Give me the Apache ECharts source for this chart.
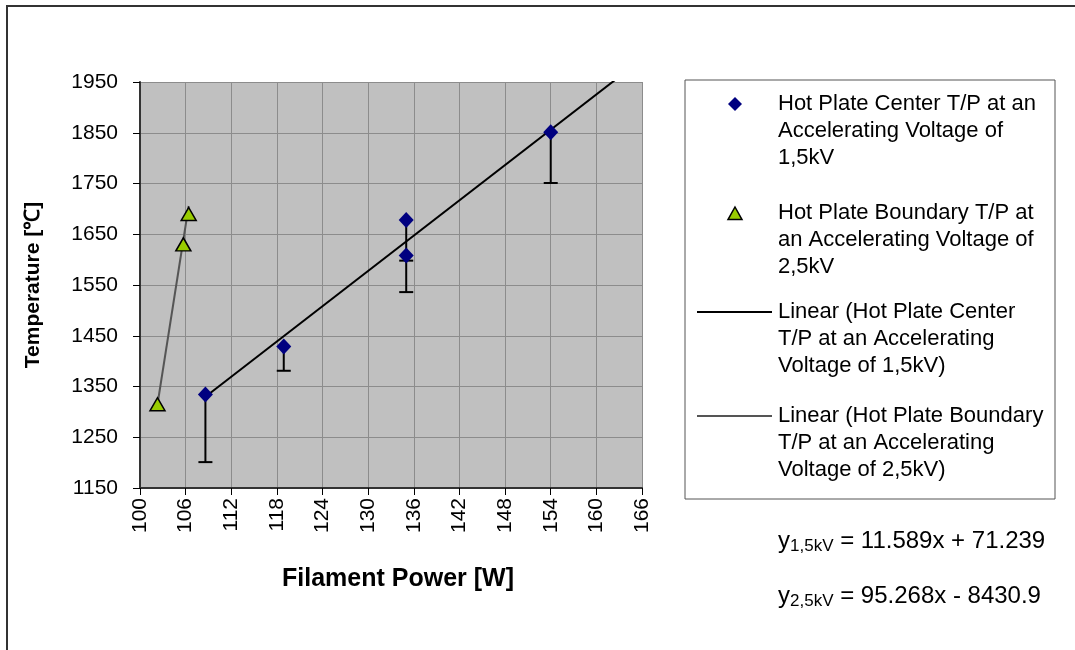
<!DOCTYPE html>
<html>
<head>
<meta charset="utf-8">
<script src="https://cdn.jsdelivr.net/npm/echarts@6/dist/echarts.min.js"></script>
<style>
html,body{margin:0;padding:0;background:#fff;}
#chart{width:1075px;height:650px;}
</style>
</head>
<body>
<div id="chart"></div>
<script>
// ---- Data ----
const centerPower = [108.6, 118.9, 135.0, 135.0, 154.0];     // W
const centerTemp = [1334, 1429, 1678, 1608, 1851];           // °C
const centerErrMinus = [133, 48, 80, 72, 100];               // °C (lower error only)
const boundaryPower = [102.3, 105.7, 106.4];                 // W
const boundaryTemp = [1315, 1630, 1690];                     // °C
// trendline equations shown on the chart: y = a x + b
const trendCenter = [11.589, 71.239];
const trendBoundary = [95.268, -8430.9];
const trendCenterRange = [108.6, 166];
const trendBoundaryRange = [102.3, 106.4];
// axis ranges [min, max, interval]
const xAxisRange = [100, 166, 6];
const yAxisRange = [1150, 1950, 100];

const legendNames = [
  'Hot Plate Center T/P at an\nAccelerating Voltage of\n1,5kV',
  'Hot Plate Boundary T/P at\nan Accelerating Voltage of\n2,5kV',
  'Linear (Hot Plate Center\nT/P at an Accelerating\nVoltage of 1,5kV)',
  'Linear (Hot Plate Boundary\nT/P at an Accelerating\nVoltage of 2,5kV)'
];
const equations = [
  ['1,5kV', ' = 11.589x + 71.239'],
  ['2,5kV', ' = 95.268x - 8430.9']
];

const FONT = '"Liberation Sans", Arial, sans-serif';

const chart = echarts.init(document.getElementById('chart'), null, {renderer: 'canvas'});

const errData = centerPower.map((x, i) => [x, centerTemp[i], centerTemp[i] - centerErrMinus[i]]);
const lineFrom = (coef, range) => range.map(x => [x, coef[0] * x + coef[1]]);

function diamond(cx, cy, r) {
  return [[cx, cy - r], [cx + r, cy], [cx, cy + r], [cx - r, cy]];
}
function triangle(cx, cy, r) {
  return [[cx, cy - r], [cx + r, cy + r * 0.8], [cx - r, cy + r * 0.8]];
}

const legendX = 685, legendY = 80, legendW = 370, legendH = 419;
const itemCenters = [104, 213, 312, 416];
const textX = 778;
const lineH = 27;
const eqCenters = [541, 596];

const graphics = [
  // outer chart frame (only top/left visible)
  {type: 'rect', shape: {x: 7, y: 6, width: 1200, height: 800}, style: {fill: 'none', stroke: '#333', lineWidth: 2}, silent: true},
  // legend box
  {type: 'rect', shape: {x: legendX, y: legendY, width: legendW, height: legendH}, style: {fill: '#fff', stroke: '#555', lineWidth: 1}},
  {type: 'polygon', shape: {points: diamond(735, itemCenters[0], 7)}, style: {fill: '#000080'}},
  {type: 'polygon', shape: {points: triangle(735, itemCenters[1] + 1, 7)}, style: {fill: '#99CC00', stroke: '#000', lineWidth: 1.5}},
  {type: 'line', shape: {x1: 697, y1: itemCenters[2], x2: 772, y2: itemCenters[2]}, style: {stroke: '#000', lineWidth: 2}},
  {type: 'line', shape: {x1: 697, y1: itemCenters[3], x2: 772, y2: itemCenters[3]}, style: {stroke: '#555', lineWidth: 2}}
];
legendNames.forEach((name, i) => {
  graphics.push({
    type: 'text', x: textX, y: itemCenters[i] - lineH / 2,
    style: {text: name, font: '22px ' + FONT, fill: '#000', lineHeight: lineH, verticalAlign: 'top', align: 'left'}
  });
});
equations.forEach((e, i) => {
  graphics.push({
    type: 'text', x: textX, y: eqCenters[i],
    style: {
      text: '{m|y}{s|' + e[0] + '}{m|' + e[1] + '}',
      verticalAlign: 'middle',
      rich: {
        m: {fontSize: 24, fontFamily: FONT, fill: '#000', lineHeight: 28, verticalAlign: 'middle'},
        s: {fontSize: 17, fontFamily: FONT, fill: '#000', lineHeight: 28, verticalAlign: 'bottom', padding: [11, 0, 0, 0]}
      }
    }
  });
});

const option = {
  backgroundColor: '#fff',
  animation: false,
  textStyle: {fontFamily: FONT},
  grid: {left: 140, top: 82, right: 433, bottom: 162, show: true, backgroundColor: '#C0C0C0', borderWidth: 0},
  xAxis: {
    type: 'value', min: xAxisRange[0], max: xAxisRange[1], interval: xAxisRange[2],
    name: 'Filament Power [W]', nameLocation: 'middle', nameGap: 79,
    nameTextStyle: {fontSize: 25, fontWeight: 'bold', color: '#000', fontFamily: FONT, padding: [0, 0, 0, 14]},
    axisLine: {show: true, onZero: false, lineStyle: {color: '#333', width: 2}},
    axisTick: {show: true, inside: false, length: 7, lineStyle: {color: '#000', width: 1}},
    axisLabel: {rotate: 90, fontSize: 21, color: '#000', fontFamily: FONT, margin: 10, formatter: v => String(v)},
    splitLine: {show: true, lineStyle: {color: '#8c8c8c', width: 1}}
  },
  yAxis: {
    type: 'value', min: yAxisRange[0], max: yAxisRange[1], interval: yAxisRange[2],
    name: 'Temperature [℃]', nameLocation: 'middle', nameGap: 96, nameRotate: 90,
    nameTextStyle: {fontSize: 21, fontWeight: 'bold', color: '#000', fontFamily: FONT},
    axisLine: {show: true, onZero: false, lineStyle: {color: '#333', width: 2}},
    axisTick: {show: true, inside: false, length: 7, lineStyle: {color: '#000', width: 1}},
    axisLabel: {fontSize: 21, color: '#000', fontFamily: FONT, margin: 22, formatter: v => String(v)},
    splitLine: {show: true, lineStyle: {color: '#8c8c8c', width: 1}}
  },
  graphic: graphics,
  series: [
    {
      type: 'custom', name: 'err', data: errData, z: 3,
      renderItem: function (params, api) {
        const p1 = api.coord([api.value(0), api.value(1)]);
        const p2 = api.coord([api.value(0), api.value(2)]);
        const hw = 7;
        return {
          type: 'group',
          children: [
            {type: 'line', shape: {x1: p1[0], y1: p1[1], x2: p2[0], y2: p2[1]}, style: {stroke: '#000', lineWidth: 2}},
            {type: 'line', shape: {x1: p2[0] - hw, y1: p2[1], x2: p2[0] + hw, y2: p2[1]}, style: {stroke: '#000', lineWidth: 2}}
          ]
        };
      }
    },
    {
      type: 'line', name: legendNames[2], data: lineFrom(trendCenter, trendCenterRange),
      showSymbol: false, symbol: 'none', clip: true, z: 4,
      lineStyle: {color: '#000', width: 2}
    },
    {
      type: 'line', name: legendNames[3], data: lineFrom(trendBoundary, trendBoundaryRange),
      showSymbol: false, symbol: 'none', clip: true, z: 4,
      lineStyle: {color: '#555', width: 2}
    },
    {
      type: 'scatter', name: legendNames[0], z: 5,
      data: centerPower.map((x, i) => [x, centerTemp[i]]),
      symbol: 'diamond', symbolSize: [15, 16],
      itemStyle: {color: '#000080', opacity: 1}
    },
    {
      type: 'scatter', name: legendNames[1], z: 5,
      data: boundaryPower.map((x, i) => [x, boundaryTemp[i]]),
      symbol: 'triangle', symbolSize: [15, 13],
      itemStyle: {color: '#99CC00', borderColor: '#000', borderWidth: 1.5, opacity: 1}
    }
  ]
};
chart.setOption(option);
</script>
</body>
</html>
